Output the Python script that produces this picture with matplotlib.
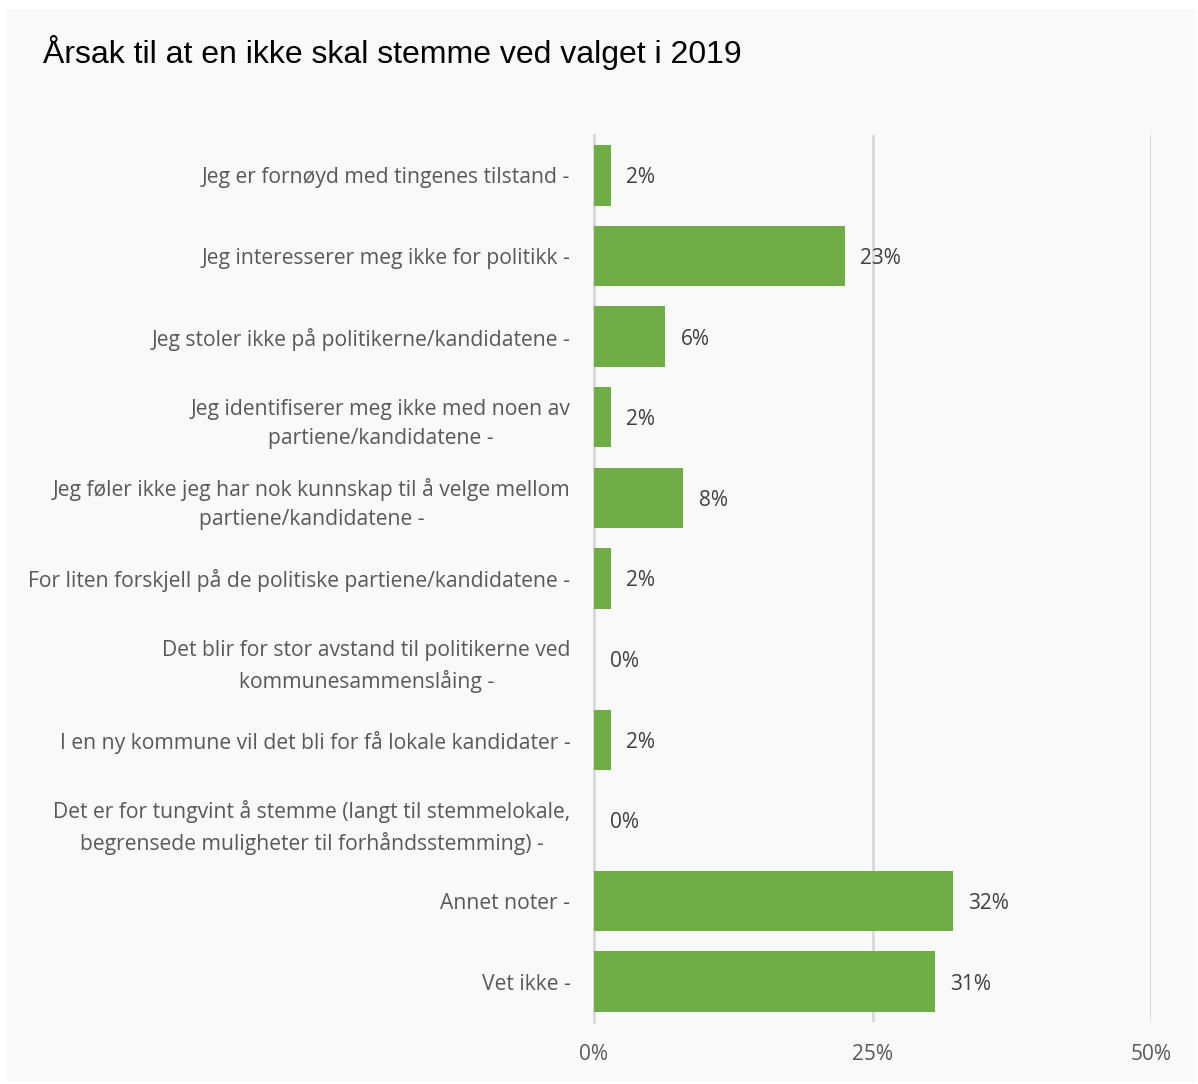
import matplotlib.pyplot as plt
from matplotlib.patches import Rectangle

# Data
categories = [
    'Jeg er fornøyd med tingenes tilstand -',
    'Jeg interesserer meg ikke for politikk -',
    'Jeg stoler ikke på politikerne/kandidatene -',
    'Jeg identifiserer meg ikke med noen av\npartiene/kandidatene -',
    'Jeg føler ikke jeg har nok kunnskap til å velge mellom\npartiene/kandidatene -',
    'For liten forskjell på de politiske partiene/kandidatene -',
    'Det blir for stor avstand til politikerne ved\nkommunesammenslåing -',
    'I en ny kommune vil det bli for få lokale kandidater -',
    'Det er for tungvint å stemme (langt til stemmelokale,\nbegrensede muligheter til forhåndsstemming) -',
    'Annet noter -',
    'Vet ikke -',
]
values = [1.5, 22.5, 6.4, 1.5, 8.0, 1.5, 0.0, 1.5, 0.0, 32.2, 30.6]
value_labels = ['2%', '23%', '6%', '2%', '8%', '2%', '0%', '2%', '0%', '32%', '31%']
x_ticks = [0, 25, 50]
x_tick_labels = ['0%', '25%', '50%']

plt.rcParams['font.family'] = ['Open Sans', 'DejaVu Sans']

fig = plt.figure(figsize=(11.98, 10.84), dpi=100, facecolor='white')

# Light grey chart panel
fig.patches.append(Rectangle((7 / 1198, 1 - 1082 / 1084), 1189 / 1198, 1073 / 1084,
                             transform=fig.transFigure, facecolor='#f9f9f9',
                             edgecolor='none', zorder=-10))

ax = fig.add_axes([594 / 1198, 1 - 1022 / 1084, 557 / 1198, 887 / 1084])
ax.set_facecolor('none')
ax.set_zorder(5)

y = list(range(len(categories)))
ax.barh(y, values, height=0.75, color='#70ad47', zorder=3)

# Value labels
for yi, v, lab in zip(y, values, value_labels):
    ax.text(v + 1.4, yi + 0.03, lab, va='center', ha='left', fontsize=15, color='#404040')

ax.set_ylim(len(categories) - 0.5, -0.5)
ax.set_xlim(0, 50)
ax.set_yticks(y)
ax.set_yticklabels(categories, fontsize=15.2, color='#595959', linespacing=1.5,
                   multialignment='center')
ax.set_xticks(x_ticks)
ax.set_xticklabels(x_tick_labels, fontsize=15, color='#595959')
ax.tick_params(axis='both', length=0)
ax.tick_params(axis='y', pad=17)
ax.tick_params(axis='x', pad=16)

ax.grid(axis='x', color='#d9d9d9', linewidth=2, zorder=0)
for s in ['top', 'right', 'bottom']:
    ax.spines[s].set_visible(False)
ax.spines['left'].set_color('#d9d9d9')
ax.spines['left'].set_linewidth(2)

fig.text(43 / 1198, 1 - 53 / 1084, 'Årsak til at en ikke skal stemme ved valget i 2019',
         fontsize=23, family=['Liberation Sans', 'DejaVu Sans'], color='black',
         ha='left', va='center')

fig.savefig('out.png', dpi=100, facecolor='white')
